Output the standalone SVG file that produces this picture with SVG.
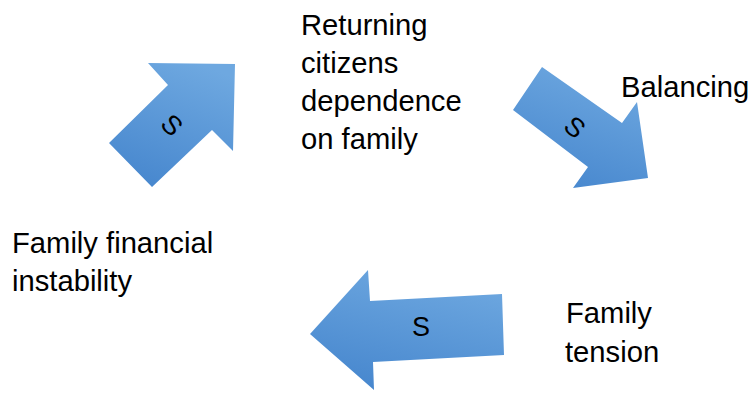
<svg xmlns="http://www.w3.org/2000/svg" width="753" height="393" viewBox="0 0 753 393">
<style>
.lbl{font-family:"Liberation Sans",Arial,sans-serif;font-size:29.2px;fill:#000}
.s{font-family:"Liberation Sans",Arial,sans-serif;font-size:27px;fill:#000;text-anchor:middle}
.arr{fill:url(#g)}
</style>
<defs>
<linearGradient id="g" x1="0.7" y1="0" x2="0.3" y2="1">
<stop offset="0" stop-color="#6ea8e0"/>
<stop offset="1" stop-color="#4787ce"/>
</linearGradient>
</defs>
<rect width="753" height="393" fill="#fff"/>
<g id="connectors">
<g id="arrow1">
<polygon class="arr" points="148,63 235,64 233,151 212,130 152,187 109,143 168,85"/>
<text class="s" transform="translate(172,125) rotate(45)" y="9.5">S</text>
</g>
<g id="arrow2">
<polygon class="arr" points="542,67 622,123 637,102 648,178 573,188 588,167 513,110"/>
<text class="s" transform="translate(575,127) rotate(40)" y="9.5">S</text>
</g>
<g id="arrow3">
<polygon class="arr" points="310,334 368,270 370,301 502,294 504,355 373,362 374,390"/>
<text class="s" x="421" y="336">S</text>
</g>
</g>
<g id="node-returning">
<text class="lbl" x="301" y="35">Returning</text>
<text class="lbl" x="301" y="73">citizens</text>
<text class="lbl" x="301" y="111">dependence</text>
<text class="lbl" x="301" y="149">on family</text>
</g>
<g id="node-balancing">
<text class="lbl" x="621" y="97">Balancing</text>
</g>
<g id="node-tension">
<text class="lbl" x="566" y="323">Family</text>
<text class="lbl" x="565" y="362">tension</text>
</g>
<g id="node-instability">
<text class="lbl" x="12" y="253">Family financial</text>
<text class="lbl" x="12" y="291">instability</text>
</g>
</svg>
